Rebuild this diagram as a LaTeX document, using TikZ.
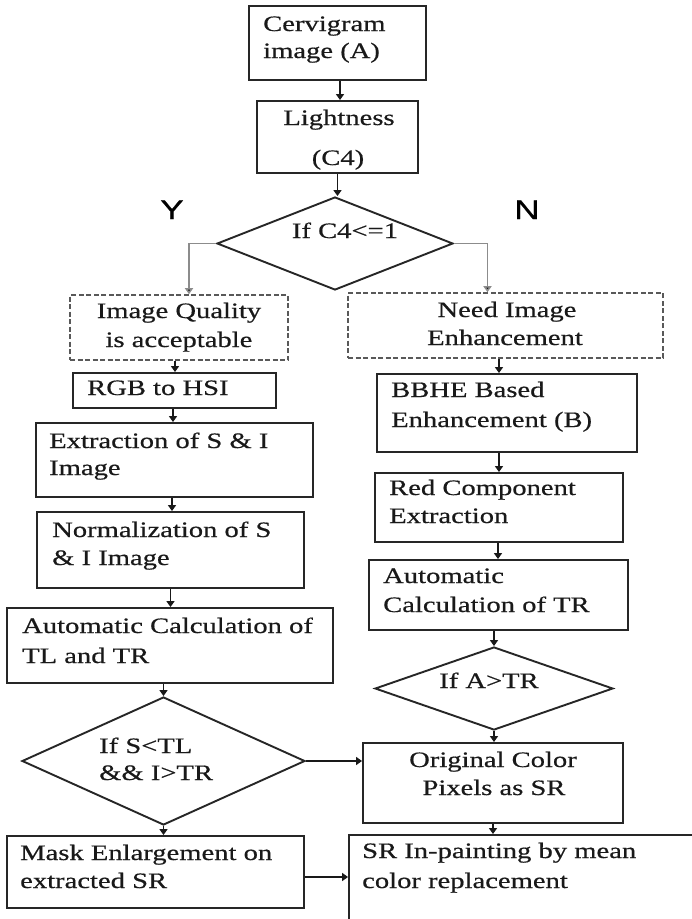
\documentclass[tikz,border=0pt]{standalone}
\usepackage{fontspec}
\setmainfont{Liberation Serif}[FakeStretch=1.3,FakeBold=0.5]
\newfontfamily\ynfont{Liberation Sans}[FakeStretch=1.3,FakeBold=0.8]
\usetikzlibrary{shapes.geometric,arrows.meta,calc}
\begin{document}
\begin{tikzpicture}[x=1pt,y=-1pt,
  box/.style={draw=black!85, line width=1.9pt, rectangle, inner sep=0pt},
  dbox/.style={draw=black!65, line width=1.6pt, dash pattern=on 5pt off 2.5pt, rectangle, inner sep=0pt},
  dia/.style={draw=black!85, line width=1.9pt, diamond, inner sep=0pt},
  txt/.style={inner sep=0pt, text=black!90, font=\fontsize{22}{28}\selectfont},
  yn/.style={inner sep=0pt, text=black, font=\ynfont\fontsize{27}{30}\selectfont},
  arr/.style={draw=black!90, line width=1.7pt, -{Triangle[length=6pt,width=8pt]}},
  garr/.style={draw=black!45, line width=1.7pt, -{Triangle[length=6pt,width=8pt,fill=black!90]}}
]
\useasboundingbox (0,0) rectangle (692,919);
\clip (0,0) rectangle (692,919);
\fill[white] (0,0) rectangle (692,919);

% boxes
\node[box, minimum width=177, minimum height=74] (cerv) at (337.5,43) {};
\node[box, minimum width=161, minimum height=72] (light) at (337.5,137) {};
\node[dia, minimum width=236, minimum height=93] (d1) at (335,243.5) {};
\node[dbox, minimum width=218, minimum height=65] (iq) at (179,327.5) {};
\node[dbox, minimum width=315, minimum height=65] (nie) at (505.5,325.5) {};
\node[box, minimum width=203, minimum height=35] (rgb) at (174.5,390.5) {};
\node[box, minimum width=277, minimum height=74] (ext) at (174.5,460) {};
\node[box, minimum width=267, minimum height=76] (norm) at (170.5,550) {};
\node[box, minimum width=326, minimum height=75] (atl) at (170,645.5) {};
\node[dia, minimum width=283, minimum height=128] (d2) at (163.5,761) {};
\node[box, minimum width=297, minimum height=72] (mask) at (155.5,872) {};
\node[box, minimum width=260, minimum height=78] (bbhe) at (507,413) {};
\node[box, minimum width=248, minimum height=69] (red) at (499,507.5) {};
\node[box, minimum width=259, minimum height=70] (atr) at (498.5,595) {};
\node[dia, minimum width=238, minimum height=83] (d3) at (494,688.5) {};
\node[box, minimum width=260, minimum height=80] (orig) at (493,783) {};
\node[box, minimum width=351, minimum height=100] (sr) at (524.5,885) {};

% texts
\node[txt, anchor=base west] (t1a) at (263,31) {Cervigram};
\node[txt, anchor=base west] (t1b) at (263,58) {image (A)};
\node[txt, anchor=base] (t2a) at (339,125) {Lightness};
\node[txt, anchor=base] (t2b) at (338,165) {(C4)};
\node[txt, anchor=base] (t3) at (345,238) {If C4<=1};
\node[yn, anchor=base] (ty) at (172,219) {Y};
\node[yn, anchor=base] (tn) at (527,219) {N};
\node[txt, anchor=base] (t4a) at (179,318) {Image Quality};
\node[txt, anchor=base] (t4b) at (179,347) {is acceptable};
\node[txt, anchor=base] (t5a) at (507,317) {Need Image};
\node[txt, anchor=base] (t5b) at (505,345) {Enhancement};
\node[txt, anchor=base west] (t6) at (87,395) {RGB to HSI};
\node[txt, anchor=base west] (t7a) at (49,448) {Extraction of S \& I};
\node[txt, anchor=base west] (t7b) at (49,475) {Image};
\node[txt, anchor=base west] (t8a) at (52,537) {Normalization of S};
\node[txt, anchor=base west] (t8b) at (52,565) {\& I Image};
\node[txt, anchor=base west] (t9a) at (22,633) {Automatic Calculation of};
\node[txt, anchor=base west] (t9b) at (22,663) {TL and TR};
\node[txt, anchor=base west] (t10a) at (99,753) {If S<TL};
\node[txt, anchor=base west] (t10b) at (99,780) {\&\& I>TR};
\node[txt, anchor=base west] (t11a) at (20,860) {Mask Enlargement on};
\node[txt, anchor=base west] (t11b) at (20,888) {extracted SR};
\node[txt, anchor=base west] (t12a) at (391,397) {BBHE Based};
\node[txt, anchor=base west] (t12b) at (391,427) {Enhancement (B)};
\node[txt, anchor=base west] (t13a) at (389,495) {Red Component};
\node[txt, anchor=base west] (t13b) at (389,523) {Extraction};
\node[txt, anchor=base west] (t14a) at (383,583) {Automatic};
\node[txt, anchor=base west] (t14b) at (383,612) {Calculation of TR};
\node[txt, anchor=base] (t15) at (489,688) {If A>TR};
\node[txt, anchor=base] (t16a) at (493,767) {Original Color};
\node[txt, anchor=base] (t16b) at (494,795) {Pixels as SR};
\node[txt, anchor=base west] (t17a) at (362,858) {SR In-painting by mean};
\node[txt, anchor=base west] (t17b) at (362,888) {color replacement};

% connectors
\draw[arr] ([xshift=2.5pt]cerv.south) -- ([xshift=2.5pt]cerv.south |- light.north);
\draw[arr] (light.south) -- (light.south |- d1.north);
\draw[garr] (d1.west) -| ([xshift=10pt]iq.north);
\draw[garr] (d1.east) -| ([xshift=-18pt]nie.north);
\draw[arr] ([xshift=-4pt]iq.south) -- ([xshift=-4pt]iq.south |- rgb.north);
\draw[arr] ([xshift=-1.5pt]rgb.south) -- ([xshift=-1.5pt]rgb.south |- ext.north);
\draw[arr] ([xshift=-2.5pt]ext.south) -- ([xshift=-2.5pt]ext.south |- norm.north);
\draw[arr] (norm.south) -- (norm.south |- atl.north);
\draw[arr] (atl.south -| d2.north) -- (d2.north);
\draw[arr] (d2.south) -- (d2.south |- mask.north);
\draw[arr] (d2.east) -- (d2.east -| orig.west);
\draw[arr] ([yshift=-5pt]mask.east) -- ([yshift=-5pt]mask.east -| sr.west);
\draw[arr] ([xshift=-6.5pt]nie.south) -- ([xshift=-6.5pt]nie.south |- bbhe.north);
\draw[arr] ([xshift=-8pt]bbhe.south) -- ([xshift=-8pt]bbhe.south |- red.north);
\draw[arr] ([xshift=-1pt]red.south) -- ([xshift=-1pt]red.south |- atr.north);
\draw[arr] (atr.south -| d3.north) -- (d3.north);
\draw[arr] (d3.south) -- (d3.south |- orig.north);
\draw[arr] (orig.south) -- (orig.south |- sr.north);
\end{tikzpicture}
\end{document}
